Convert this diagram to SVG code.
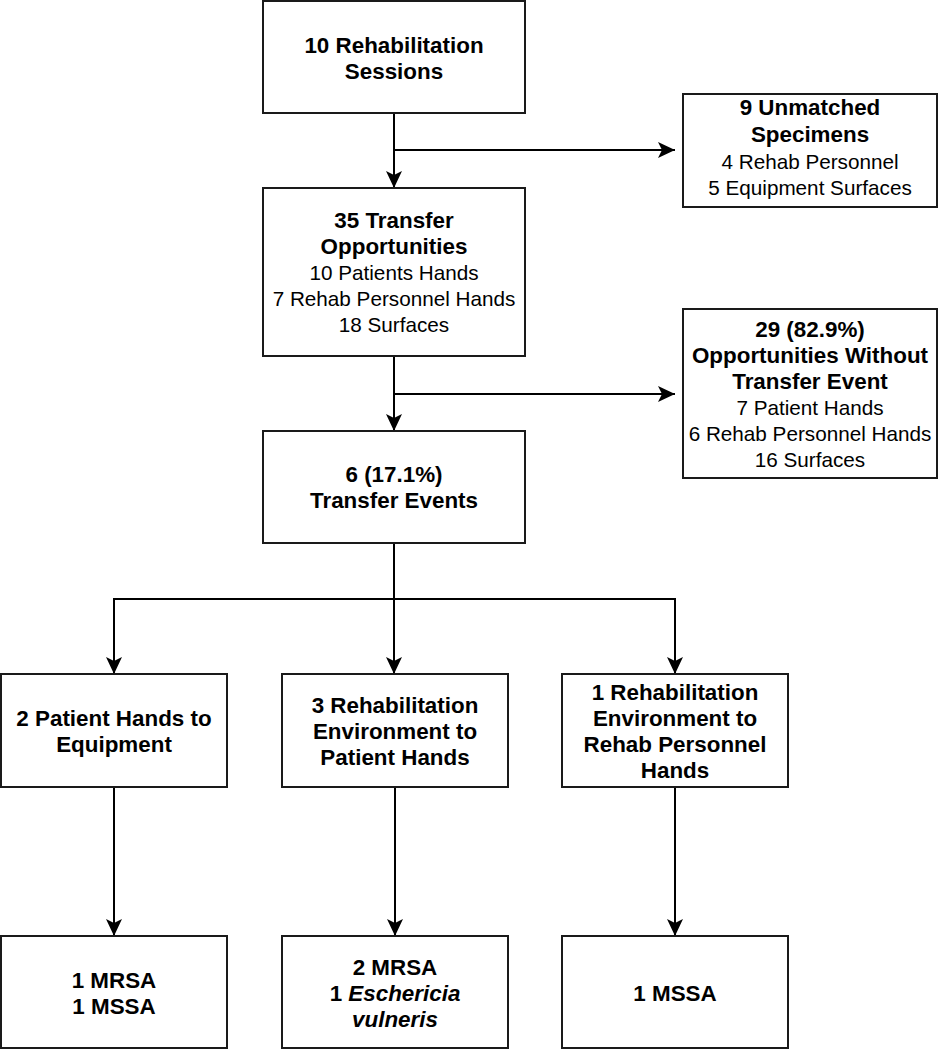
<svg xmlns="http://www.w3.org/2000/svg" width="947" height="1050" viewBox="0 0 947 1050">
<style>
.box{fill:#ffffff;stroke:#1a1a1a;stroke-width:2}
.t{font-family:"Liberation Sans",Arial,sans-serif;fill:#000;text-anchor:middle}
.b{font-size:22.4px;font-weight:bold}
.r{font-size:20.7px}
.c{fill:none;stroke:#000;stroke-width:2}
</style>
<defs>
<marker id="arr" markerUnits="userSpaceOnUse" markerWidth="17" markerHeight="16" viewBox="0 0 17 16" refX="17" refY="8" orient="auto">
<path d="M0,0 L17,8 L0,16 L4,8 Z" fill="#000"/>
</marker>
</defs>
<rect width="947" height="1050" fill="#ffffff"/>
<g id="connectors">
<path class="c" d="M394,113 V188" marker-end="url(#arr)"/>
<path class="c" d="M394,150 H675" marker-end="url(#arr)"/>
<path class="c" d="M394,356 V431" marker-end="url(#arr)"/>
<path class="c" d="M394,394 H675" marker-end="url(#arr)"/>
<path class="c" d="M394,543 V599"/>
<path class="c" d="M114,674 V599 H675 V674" marker-end="url(#arr)"/>
<path class="c" d="M114,599 V674" marker-end="url(#arr)"/>
<path class="c" d="M394,599 V674" marker-end="url(#arr)"/>
<path class="c" d="M114,787 V936" marker-end="url(#arr)"/>
<path class="c" d="M395,787 V936" marker-end="url(#arr)"/>
<path class="c" d="M675,787 V936" marker-end="url(#arr)"/>
</g>
<g id="sessions">
<rect class="box" x="263" y="1" width="262" height="112"/>
<text class="t b" x="394" y="53">10 Rehabilitation</text>
<text class="t b" x="394" y="79">Sessions</text>
</g>
<g id="unmatched">
<rect class="box" x="683" y="94" width="254" height="113"/>
<text class="t b" x="810" y="115">9 Unmatched</text>
<text class="t b" x="810" y="142">Specimens</text>
<text class="t r" x="810" y="169">4 Rehab Personnel</text>
<text class="t r" x="810" y="195">5 Equipment Surfaces</text>
</g>
<g id="opportunities">
<rect class="box" x="263" y="188" width="262" height="168"/>
<text class="t b" x="394" y="228">35 Transfer</text>
<text class="t b" x="394" y="254">Opportunities</text>
<text class="t r" x="394" y="280">10 Patients Hands</text>
<text class="t r" x="394" y="306">7 Rehab Personnel Hands</text>
<text class="t r" x="394" y="332">18 Surfaces</text>
</g>
<g id="without">
<rect class="box" x="683" y="309" width="254" height="169"/>
<text class="t b" x="810" y="337">29 (82.9%)</text>
<text class="t b" x="810" y="363">Opportunities Without</text>
<text class="t b" x="810" y="389">Transfer Event</text>
<text class="t r" x="810" y="415">7 Patient Hands</text>
<text class="t r" x="810" y="441">6 Rehab Personnel Hands</text>
<text class="t r" x="810" y="467">16 Surfaces</text>
</g>
<g id="events">
<rect class="box" x="263" y="431" width="262" height="112"/>
<text class="t b" x="394" y="482">6 (17.1%)</text>
<text class="t b" x="394" y="508">Transfer Events</text>
</g>
<g id="patient-equipment">
<rect class="box" x="1" y="674" width="226" height="113"/>
<text class="t b" x="114" y="726">2 Patient Hands to</text>
<text class="t b" x="114" y="752">Equipment</text>
</g>
<g id="env-patient">
<rect class="box" x="282" y="674" width="226" height="113"/>
<text class="t b" x="395" y="713">3 Rehabilitation</text>
<text class="t b" x="395" y="739">Environment to</text>
<text class="t b" x="395" y="765">Patient Hands</text>
</g>
<g id="env-personnel">
<rect class="box" x="562" y="674" width="226" height="113"/>
<text class="t b" x="675" y="700">1 Rehabilitation</text>
<text class="t b" x="675" y="726">Environment to</text>
<text class="t b" x="675" y="752">Rehab Personnel</text>
<text class="t b" x="675" y="778">Hands</text>
</g>
<g id="result-1">
<rect class="box" x="1" y="936" width="226" height="112"/>
<text class="t b" x="114" y="988">1 MRSA</text>
<text class="t b" x="114" y="1014">1 MSSA</text>
</g>
<g id="result-2">
<rect class="box" x="282" y="936" width="226" height="112"/>
<text class="t b" x="395" y="975">2 MRSA</text>
<text class="t b" x="395" y="1001">1 <tspan font-style="italic">Eschericia</tspan></text>
<text class="t b" x="395" y="1027" font-style="italic">vulneris</text>
</g>
<g id="result-3">
<rect class="box" x="562" y="936" width="226" height="112"/>
<text class="t b" x="675" y="1001">1 MSSA</text>
</g>
</svg>
